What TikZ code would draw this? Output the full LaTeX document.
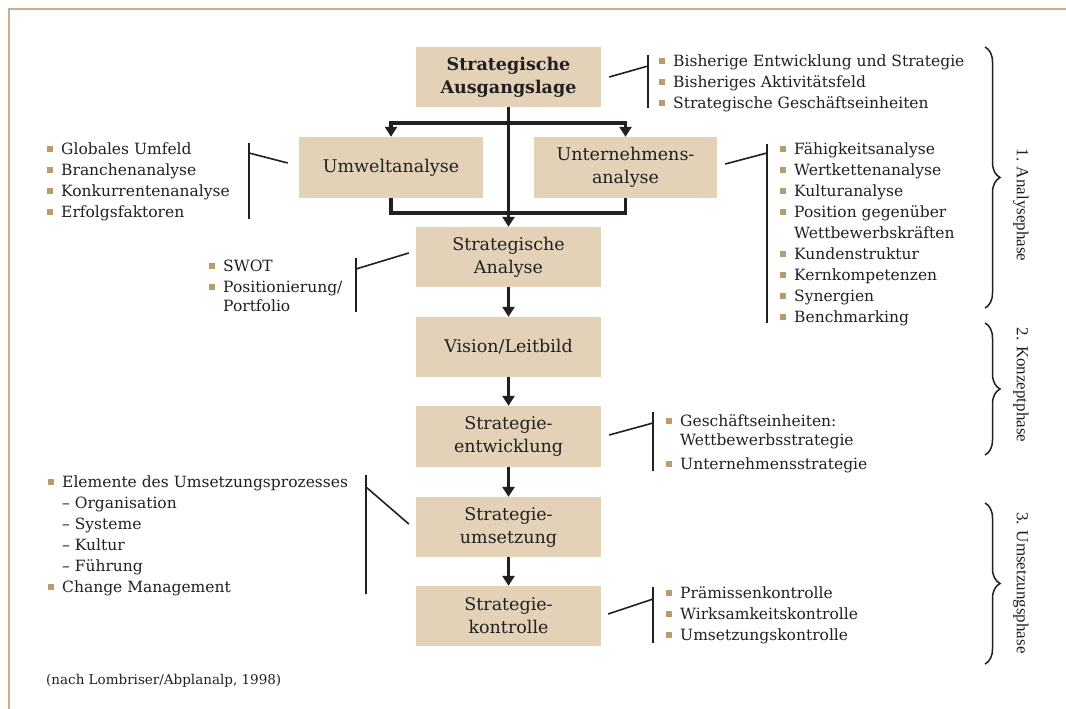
\documentclass[tikz,border=0pt]{standalone}
\usepackage{fontspec}
\setmainfont{DejaVu Serif}
\newfontfamily\phasefont{Liberation Serif}
\usetikzlibrary{arrows.meta,decorations.pathreplacing,calc}
\definecolor{boxfill}{RGB}{227,210,184}
\definecolor{ink}{RGB}{35,31,32}
\definecolor{bulletc}{RGB}{184,155,111}
\definecolor{framec}{RGB}{200,176,140}
% square list bullet and matching hanging indent
\newcommand\bsq{\strut\makebox[14pt][l]{\textcolor{bulletc}{\rule[2.5pt]{6pt}{6pt}}}}
\newcommand\ind{\strut\makebox[14pt]{}}
\begin{document}
\begin{tikzpicture}[x=1pt,y=-1pt,
  stage/.style={fill=boxfill, minimum width=185pt, minimum height=60pt, inner sep=0pt,
    align=center, text=ink, font=\fontsize{17.5}{23}\selectfont},
  flow/.style={line width=3.4pt, draw=ink, -{Triangle[width=12pt,length=10pt]}},
  flowline/.style={line width=3.4pt, draw=ink, line join=miter},
  items/.style={anchor=north west, inner sep=0pt, align=left, text=ink,
    font=\fontsize{15.5}{21}\selectfont},
  tie/.style={line width=1.6pt, draw=ink},
  phasebrace/.style={line width=1.5pt, draw=ink, decorate,
    decoration={brace, amplitude=15pt}},
  phase/.style={rotate=-90, text=ink, inner sep=0pt, font=\phasefont\fontsize{17}{20}\selectfont}
]
\useasboundingbox (0,0) rectangle (1066,709);
\fill[white] (0,0) rectangle (1066,709);
\draw[framec, line width=2pt] (9,712) -- (9,9) -- (1070,9);

% process stages
\node[stage, font=\bfseries\fontsize{17.5}{23}\selectfont] (ausg) at (508.5,77) {Strategische\\Ausgangslage};
\node[stage, minimum width=184pt, minimum height=61pt] (umw) at (391,167.5) {Umweltanalyse};
\node[stage, minimum width=183pt, minimum height=61pt] (unt) at (625.5,167.5) {Unternehmens-\\analyse};
\node[stage] (sa) at (508.5,257) {Strategische\\Analyse};
\node[stage] (vis) at (508.5,347) {Vision/Leitbild};
\node[stage, minimum height=61pt] (ent) at (508.5,436.5) {Strategie-\\entwicklung};
\node[stage] (ums) at (508.5,527) {Strategie-\\umsetzung};
\node[stage] (kon) at (508.5,616) {Strategie-\\kontrolle};

% flow arrows
\coordinate (split) at (ausg.south |- 0,123);
\coordinate (join) at (ausg.south |- 0,213);
\draw[flowline] (umw.south) |- (join) -| (unt.south);
\draw[flow] (split) -| (umw.north);
\draw[flow] (split) -| (unt.north);
\draw[flow] (ausg.south) -- (sa.north);
\draw[flow] (sa.south) -- (vis.north);
\draw[flow] (vis.south) -- (ent.north);
\draw[flow] (ent.south) -- (ums.north);
\draw[flow] (ums.south) -- (kon.north);

% detail lists
\node[items] (l-ausg) at (659,52) {\bsq Bisherige Entwicklung und Strategie\\\bsq Bisheriges Aktivitätsfeld\\\bsq Strategische Geschäftseinheiten};
\node[items] (l-umw) at (47,140) {\bsq Globales Umfeld\\\bsq Branchenanalyse\\\bsq Konkurrentenanalyse\\\bsq Erfolgsfaktoren};
\node[items] (l-unt) at (780,140) {\bsq Fähigkeitsanalyse\\\bsq Wertkettenanalyse\\\bsq Kulturanalyse\\\bsq Position gegenüber\\\ind Wettbewerbskräften\\\bsq Kundenstruktur\\\bsq Kernkompetenzen\\\bsq Synergien\\\bsq Benchmarking};
\node[items] (l-sa) at (209,257) {\bsq SWOT\\\bsq Positionierung/\\[-2pt]\ind Portfolio};
\node[items] (l-ent) at (666,412) {\bsq Geschäftseinheiten:\\[-2pt]\ind Wettbewerbsstrategie\\[3pt]\bsq Unternehmensstrategie};
\node[items] (l-ums) at (48,473) {\bsq Elemente des Umsetzungsprozesses\\\ind– Organisation\\\ind– Systeme\\\ind– Kultur\\\ind– Führung\\\bsq Change Management};
\node[items] (l-kon) at (666,584) {\bsq Prämissenkontrolle\\\bsq Wirksamkeitskontrolle\\\bsq Umsetzungskontrolle};

% brackets tying lists to stages
\coordinate (b1t) at (648,55);  \coordinate (b1b) at (648,108); \coordinate (b1k) at (648,66);
\coordinate (b2t) at (249,143); \coordinate (b2b) at (249,219); \coordinate (b2k) at (249,153);
\coordinate (b3t) at (767,144); \coordinate (b3b) at (767,323); \coordinate (b3k) at (767,153);
\coordinate (b4t) at (356,258); \coordinate (b4b) at (356,312); \coordinate (b4k) at (356,269);
\coordinate (b5t) at (653,412); \coordinate (b5b) at (653,471); \coordinate (b5k) at (653,423);
\coordinate (b6t) at (366,475); \coordinate (b6b) at (366,594); \coordinate (b6k) at (366,487);
\coordinate (b7t) at (653,587); \coordinate (b7b) at (653,643); \coordinate (b7k) at (653,599);
\foreach \i in {1,...,7} {\draw[tie] (b\i t) -- (b\i b);}
\draw[tie] ($(ausg.east)+(8,0)$) -- (b1k);
\draw[tie] ($(umw.west)+(-11,-4.5)$) -- (b2k);
\draw[tie] ($(unt.east)+(8,-3.5)$) -- (b3k);
\draw[tie] ($(sa.west)+(-7,-4)$) -- (b4k);
\draw[tie] ($(ent.east)+(8,-1.5)$) -- (b5k);
\draw[tie] ($(ums.west)+(-7,-3)$) -- (b6k);
\draw[tie] ($(kon.east)+(7,-2)$) -- (b7k);

% phases
\draw[phasebrace] (985,47) -- (985,308);
\draw[phasebrace] (985,323) -- (985,455);
\draw[phasebrace] (985,503) -- (985,664);
\node[phase] (p1) at (1021,205) {1. Analysephase};
\node[phase] (p2) at (1021,385) {2. Konzeptphase};
\node[phase] (p3) at (1021,583) {3. Umsetzungsphase};

% source
\node[anchor=west, inner sep=0pt, text=ink, font=\fontsize{13.5}{16}\selectfont] (src) at (46,681) {(nach Lombriser/Abplanalp, 1998)};
\end{tikzpicture}
\end{document}
